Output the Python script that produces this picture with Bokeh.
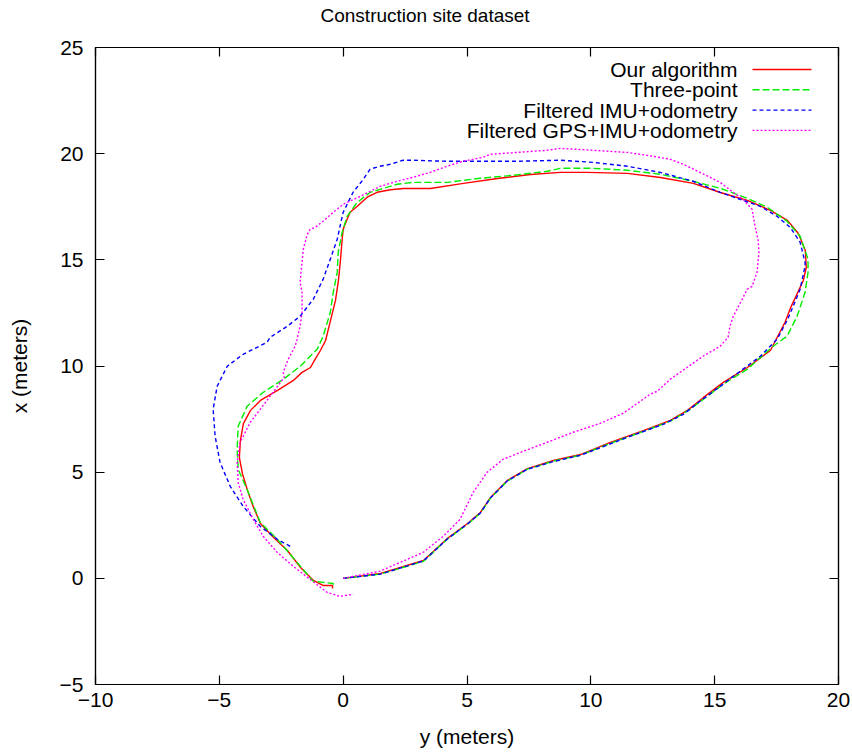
from bokeh.plotting import figure
from bokeh.models import LinearAxis, Label, Range1d, FixedTicker
from bokeh.embed import file_html
from bokeh.resources import INLINE

# ---------------- data (y = horizontal, x = vertical, metres) -------------
title_text = "Construction site dataset"
x_ticks = [-10, -5, 0, 5, 10, 15, 20]
y_ticks = [-5, 0, 5, 10, 15, 20, 25]

series_names = ["Our algorithm", "Three-point", "Filtered IMU+odometry",
                "Filtered GPS+IMU+odometry"]

ours_y = [0.00, 1.51, 3.24, 4.21, 5.02, 5.54, 5.95, 6.63, 7.44, 8.49, 9.58,
          10.79, 12.12, 13.21, 13.90, 14.55, 15.35, 16.32, 17.25, 17.84, 18.09,
          18.58, 18.70, 18.66, 18.38, 17.94, 17.25, 16.32, 15.23, 14.14, 12.81,
          11.48, 9.86, 8.77, 7.56, 6.23, 4.86, 3.52, 2.43, 1.91, 1.37, 0.97,
          0.57, 0.28, 0.16, 0.00, -0.04, -0.11, -0.19, -0.31, -0.51, -0.71,
          -0.92, -1.13, -1.32, -1.66, -2.01, -2.65, -3.34, -3.74, -4.03, -4.15,
          -4.19, -4.07, -3.86, -3.62, -3.34, -2.81, -2.25, -1.72, -1.20, -0.80,
          -0.43, -0.43]
ours_x = [0.00, 0.23, 0.84, 1.88, 2.58, 3.10, 3.81, 4.61, 5.17, 5.55, 5.83,
          6.40, 6.96, 7.44, 7.91, 8.52, 9.23, 9.93, 10.73, 12.06, 12.81, 14.03,
          14.64, 15.44, 16.24, 16.86, 17.33, 17.80, 18.17, 18.60, 18.88, 19.07,
          19.12, 19.12, 19.02, 18.83, 18.60, 18.36, 18.36, 18.30, 18.18, 17.95,
          17.52, 17.24, 16.91, 16.44, 15.97, 14.97, 14.03, 13.09, 12.15, 11.20,
          10.73, 10.32, 9.93, 9.70, 9.32, 8.85, 8.38, 7.91, 7.29, 6.49, 5.69,
          4.94, 4.14, 3.34, 2.58, 1.92, 1.31, 0.51, -0.10, -0.34, -0.34, -0.48]

three_y = [0.00, 1.51, 3.24, 4.21, 5.02, 5.54, 5.95, 6.63, 7.44, 8.49, 9.58,
           10.79, 12.12, 13.21, 14.00, 14.70, 15.34, 16.31, 17.36, 17.92, 18.33,
           18.65, 18.77, 18.77, 18.45, 17.92, 17.12, 16.31, 15.22, 14.13, 12.80,
           11.47, 10.09, 8.76, 8.24, 6.86, 5.53, 4.20, 2.83, 2.18, 1.49, 1.09,
           0.57, 0.16, -0.04, -0.20, -0.24, -0.40, -0.52, -0.81, -1.05, -1.74,
           -2.42, -3.23, -3.88, -4.24, -4.28, -4.24, -3.88, -3.35, -2.66, -1.86,
           -1.21, -0.81, -0.40, -0.40]
three_x = [0.00, 0.20, 0.80, 1.85, 2.55, 3.07, 3.78, 4.58, 5.14, 5.52, 5.80,
           6.36, 6.92, 7.40, 7.95, 8.57, 9.14, 9.84, 10.93, 11.40, 12.34, 13.47,
           14.41, 15.03, 16.11, 16.82, 17.48, 17.90, 18.37, 18.70, 19.03, 19.22,
           19.31, 19.31, 19.17, 18.98, 18.84, 18.65, 18.65, 18.56, 18.32, 18.18,
           17.71, 17.05, 16.30, 15.36, 14.41, 13.47, 12.53, 11.40, 10.79, 9.98,
           9.37, 8.76, 8.10, 7.16, 6.08, 5.13, 4.19, 2.64, 1.84, 0.75, -0.14,
           -0.19, -0.24, -0.45]

imu_y = [0.00, 1.51, 3.24, 4.21, 5.02, 5.54, 5.95, 6.63, 7.44, 8.49, 9.57,
         11.47, 12.92, 13.73, 14.41, 15.22, 15.75, 16.84, 17.52, 17.95, 18.45,
         18.65, 18.65, 18.45, 18.05, 17.52, 16.84, 16.03, 15.22, 14.13, 12.80,
         11.47, 10.09, 8.76, 6.86, 5.53, 4.20, 2.83, 2.42, 1.90, 1.49, 1.09,
         0.81, 0.40, 0.00, -0.24, -0.52, -0.81, -1.21, -1.74, -2.26, -2.95,
         -3.07, -4.04, -4.68, -5.09, -5.25, -5.17, -4.97, -4.56, -4.04, -3.35,
         -2.66, -2.14]
imu_x = [0.00, 0.20, 0.82, 1.86, 2.56, 3.08, 3.79, 4.59, 5.14, 5.50, 5.79,
         6.64, 7.25, 7.72, 8.34, 9.04, 9.51, 10.46, 11.26, 12.20, 13.61, 14.70,
         14.88, 15.83, 16.53, 17.05, 17.52, 17.85, 18.18, 18.70, 19.12, 19.41,
         19.59, 19.69, 19.64, 19.64, 19.64, 19.69, 19.69, 19.50, 19.41, 19.27,
         18.79, 18.18, 17.24, 15.97, 15.03, 14.08, 13.14, 12.34, 11.87, 11.35,
         11.12, 10.55, 9.99, 9.04, 7.96, 6.69, 5.46, 4.33, 3.39, 2.45, 1.84,
         1.51]

gps_y = [0.00, 1.49, 2.30, 3.23, 4.04, 4.72, 5.25, 5.81, 6.46, 7.27, 8.24,
         9.29, 10.38, 11.30, 11.71, 12.39, 12.68, 13.20, 13.89, 14.53, 15.22,
         15.54, 15.62, 15.75, 16.11, 16.31, 16.51, 16.71, 16.79, 16.75, 16.63,
         16.51, 16.15, 15.75, 15.22, 14.41, 13.73, 13.20, 12.27, 11.47, 10.09,
         8.76, 8.24, 7.15, 5.93, 5.65, 4.84, 4.20, 3.51, 2.83, 2.18, 1.49, 0.69,
         0.00, -0.40, -0.81, -1.13, -1.33, -1.45, -1.61, -1.70, -1.74, -1.66,
         -1.66, -1.74, -1.86, -1.94, -2.22, -2.42, -2.38, -2.83, -3.35, -3.75,
         -4.16, -4.28, -4.24, -4.04, -3.63, -3.23, -2.66, -2.02, -1.33, -0.65,
         -0.12, 0.40]
gps_x = [0.00, 0.34, 0.75, 1.22, 1.98, 2.78, 4.05, 4.99, 5.61, 5.98, 6.41,
         6.88, 7.30, 7.77, 8.10, 8.67, 8.81, 9.37, 9.94, 10.46, 10.93, 11.35,
         11.87, 12.34, 13.14, 13.61, 13.75, 14.41, 15.36, 15.97, 16.58, 17.38,
         17.85, 18.18, 18.65, 19.12, 19.50, 19.74, 19.92, 20.06, 20.16, 20.25,
         20.16, 20.07, 19.97, 19.83, 19.64, 19.41, 19.12, 18.89, 18.70, 18.46,
         17.99, 17.62, 17.24, 16.82, 16.53, 16.44, 16.20, 15.50, 14.41, 13.94,
         13.47, 12.53, 11.87, 11.26, 10.93, 10.32, 9.70, 9.47, 8.76, 7.96, 7.35,
         6.41, 5.46, 4.52, 3.72, 2.78, 1.98, 1.22, 0.57, -0.05, -0.66, -0.85,
         -0.75]

# ---------------- styling -------------------------------------------------
FONT = "Liberation Sans"
FS = "21px"
colors = ["#ff0000", "#00ee00", "#0000ff", "#ff00ff"]
dashes = ["solid", "7 3", "4 3", "2 2"]
LW = 1.4

X0, X1, Y0, Y1 = -10, 20, -5, 25
FRAME_W, FRAME_H = 743, 637

p = figure(frame_width=FRAME_W, frame_height=FRAME_H,
           min_border_left=95, min_border_right=12,
           min_border_top=47, min_border_bottom=67,
           x_range=Range1d(X0, X1), y_range=Range1d(Y0, Y1),
           output_backend="svg", toolbar_location=None,
           title=title_text)
p.background_fill_color = "white"
p.border_fill_color = "white"
p.outline_line_color = "black"
p.outline_line_width = 1.2
p.xgrid.visible = False
p.ygrid.visible = False

# gnuplot centres the title on the whole canvas, high above the frame
p.title.text_font = FONT
p.title.text_font_size = "19px"
p.title.text_font_style = "normal"
p.title.text_color = "black"
p.title.align = "left"
p.title.offset = 225
p.title.standoff = 0
p.title.padding = dict(left=0, right=0, top=0, bottom=22)


def style_axis(ax, labels=True):
    ax.axis_line_color = "black"
    ax.axis_line_width = 1.2
    ax.major_tick_in = 9
    ax.major_tick_out = 0
    ax.major_tick_line_color = "black"
    ax.major_tick_line_width = 1.2
    ax.minor_tick_in = 0
    ax.minor_tick_out = 0
    ax.major_label_text_font = FONT
    if labels:
        ax.major_label_text_font_size = FS
        ax.major_label_text_color = "black"
    else:
        ax.major_label_text_font_size = "1px"
        ax.major_label_text_color = None
    ax.axis_label_text_font = FONT
    ax.axis_label_text_font_size = FS
    ax.axis_label_text_font_style = "normal"
    ax.axis_label_text_color = "black"


p.xaxis.ticker = FixedTicker(ticks=x_ticks)
p.yaxis.ticker = FixedTicker(ticks=y_ticks)
style_axis(p.xaxis[0])
style_axis(p.yaxis[0])
p.xaxis.axis_label = "y (meters)"
p.yaxis.axis_label = "x (meters)"
p.xaxis.major_label_standoff = 8
p.xaxis.axis_label_standoff = 15
p.yaxis.major_label_standoff = 12
p.yaxis.axis_label_standoff = 26

# mirrored tick marks on top and right (no labels)
top = LinearAxis(ticker=FixedTicker(ticks=x_ticks), major_label_standoff=0)
right = LinearAxis(ticker=FixedTicker(ticks=y_ticks), major_label_standoff=0)
style_axis(top, labels=False)
style_axis(right, labels=False)
p.add_layout(top, "above")
p.add_layout(right, "right")

for (hy, vx), c, d in zip([(ours_y, ours_x), (three_y, three_x),
                           (imu_y, imu_x), (gps_y, gps_x)], colors, dashes):
    p.line(hy, vx, line_color=c, line_width=LW, line_dash=d)

# gnuplot-style key: right-aligned text, line sample to its right
KEY_TEXT_X, KEY_S0, KEY_S1, KEY_TOP, KEY_STEP = 642, 657, 716, FRAME_H - 22, 20.3


def sx_to_data(sx):
    return X0 + (X1 - X0) * sx / FRAME_W


def sy_to_data(sy):
    return Y0 + (Y1 - Y0) * sy / FRAME_H


for i, (name, c, d) in enumerate(zip(series_names, colors, dashes)):
    ky = KEY_TOP - KEY_STEP * i
    p.add_layout(Label(x=KEY_TEXT_X, y=ky, x_units="screen", y_units="screen",
                       text=name, text_align="right", text_baseline="middle",
                       text_font=FONT, text_font_size=FS, text_color="black"))
    p.line([sx_to_data(KEY_S0), sx_to_data(KEY_S1)],
           [sy_to_data(ky), sy_to_data(ky)],
           line_color=c, line_width=LW, line_dash=d)

open("out.html", "w").write(file_html(p, INLINE))
